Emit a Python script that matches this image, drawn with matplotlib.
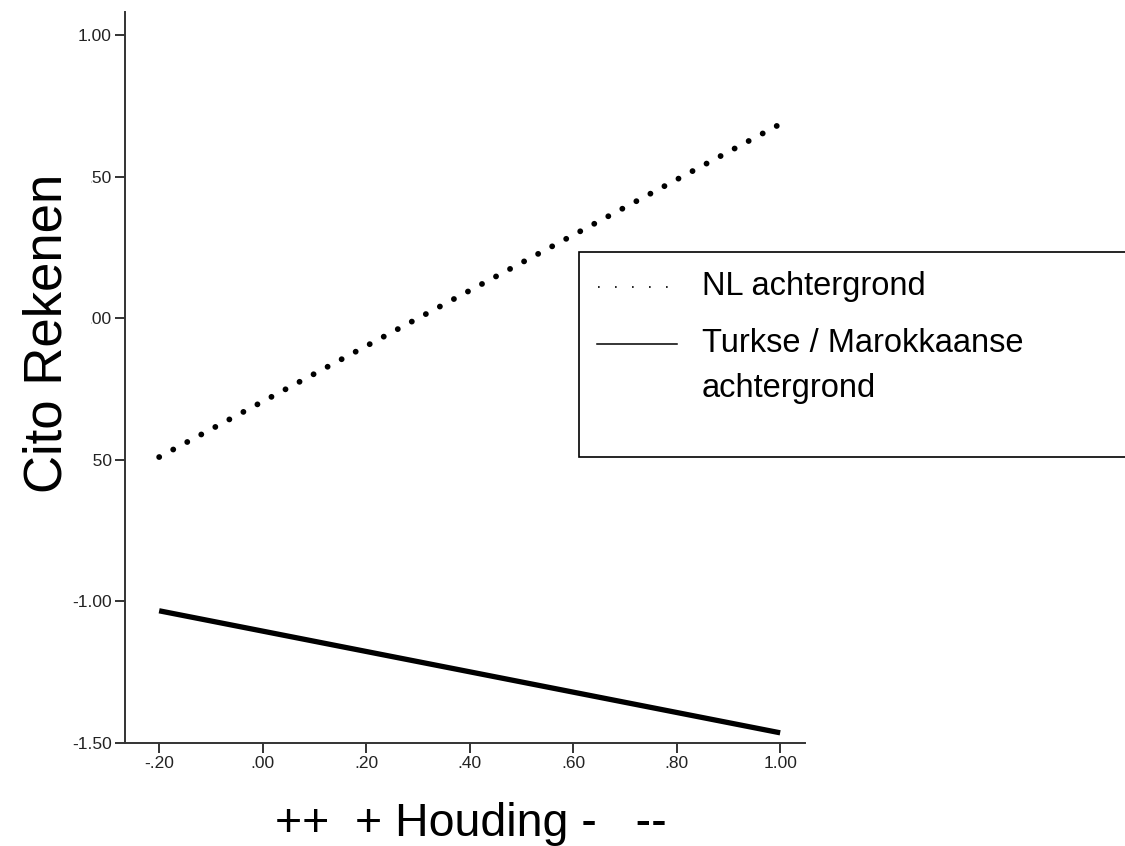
import matplotlib
matplotlib.use("Agg")
import matplotlib.pyplot as plt
from matplotlib.lines import Line2D
from matplotlib.patches import Rectangle

plt.rcParams['font.family'] = ['Liberation Sans', 'DejaVu Sans']

# data (line end points)
houding = [-0.20, 1.00]
nl_achtergrond = [-0.49, 0.686]
tm_achtergrond = [-1.033, -1.464]

xticks = [-0.20, 0.00, 0.20, 0.40, 0.60, 0.80, 1.00]
xticklabels = ['-.20', '.00', '.20', '.40', '.60', '.80', '1.00']
yticks = [-1.50, -1.00, -0.50, 0.00, 0.50, 1.00]
yticklabels = ['-1.50', '-1.00', '-.50', '.00', '.50', '1.00']

W, H = 1125, 846
fig = plt.figure(figsize=(W / 100, H / 100), dpi=100)

def fx(px):
    return px / W

def fy(py):
    return (H - py) / H

ax = fig.add_axes([fx(125), fy(743), fx(805) - fx(125), fy(12) - fy(743)])
ax.set_xlim(-0.266, 1.048)
ax.set_ylim(-1.50, 1.082)

ax.plot(houding, nl_achtergrond, color='black', lw=4.2,
        linestyle=(0, (0.01, 2.72)), dash_capstyle='round')
ax.plot(houding, tm_achtergrond, color='black', lw=3.8, solid_capstyle='butt')

for side in ['top', 'right']:
    ax.spines[side].set_visible(False)
for side in ['left', 'bottom']:
    ax.spines[side].set_color('#333333')
    ax.spines[side].set_linewidth(1.4)

ax.set_xticks(xticks)
ax.set_xticklabels(xticklabels)
ax.set_yticks(yticks)
ax.set_yticklabels(yticklabels)
ax.tick_params(axis='both', direction='out', length=7, width=1.4,
               color='#333333', labelsize=12.5, labelcolor='#222222', pad=2.5)

# white box over part of the y tick labels, as in the original
fig.patches.append(Rectangle((0, fy(505)), fx(91), fy(165) - fy(505),
                             transform=fig.transFigure, facecolor='white',
                             edgecolor='none', zorder=2))

fig.text(fx(62), fy(333), 'Cito Rekenen', rotation=90, rotation_mode='anchor',
         ha='center', va='baseline', fontsize=38, zorder=3)
fig.text(fx(471), fy(836), '++  + Houding -   --', ha='center', va='baseline',
         fontsize=33.5)

# legend box, running off the right edge
fig.patches.append(Rectangle((fx(579), fy(457)), 0.6, fy(252) - fy(457),
                             transform=fig.transFigure, facecolor='white',
                             edgecolor='black', lw=1.2, zorder=2))
fig.lines.append(Line2D([fx(598), fx(672)], [fy(287), fy(287)],
                        transform=fig.transFigure, color='black', lw=1.2,
                        linestyle=(0, (1, 9.2)), zorder=3))
fig.lines.append(Line2D([fx(597), fx(677)], [fy(344), fy(344)],
                        transform=fig.transFigure, color='black', lw=1.1, zorder=3))
fig.text(fx(702), fy(287), 'NL achtergrond', ha='left', va='center',
         fontsize=23.5, zorder=3)
fig.text(fx(702), fy(343), 'Turkse / Marokkaanse', ha='left', va='center',
         fontsize=23.5, zorder=3)
fig.text(fx(702), fy(388), 'achtergrond', ha='left', va='center',
         fontsize=23.5, zorder=3)

fig.savefig('out.png', dpi=100, facecolor='white')
